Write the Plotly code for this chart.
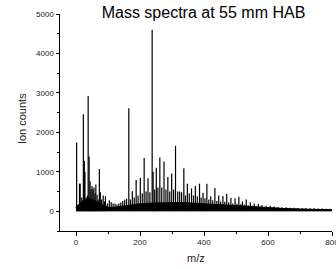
import plotly.graph_objects as go

# Main peaks (m/z, ion counts)
peak_mz = [2, 8, 11, 13, 18, 23, 26, 28, 32, 36, 38, 41, 44, 47, 50, 53, 56, 59, 62, 66,
           69, 73, 76, 80, 85, 89, 92, 98, 104, 110, 116, 122, 128, 134, 140, 146, 152, 158,
           165, 170, 176, 182, 188, 194, 201, 207, 213, 219, 225, 231, 238, 241, 246, 251,
           256, 262, 268, 275, 281, 287, 293, 299, 305, 311, 318, 324, 330, 337, 342, 348,
           354, 361, 367, 373, 379, 386, 391, 397, 403, 409, 415, 421, 427, 434, 440, 446,
           452, 459, 465, 471, 477, 484, 490, 497, 503, 509, 515, 520, 526, 532, 538, 545,
           551, 557, 563, 570, 576, 581, 588, 594, 600, 607, 613, 619, 625, 632, 638, 644,
           650, 657, 663, 669, 675, 682, 688, 694, 700, 707, 713, 719, 725, 732, 738, 744,
           750, 757, 763, 769, 775, 782, 788, 794, 800]
peak_counts = [1740, 120, 700, 700, 350, 2460, 1280, 1000, 350, 400, 2920, 1390, 760, 550, 640, 560, 600, 450, 680, 420,
               300, 1070, 480, 300, 400, 250, 380, 200, 280, 230, 200, 190, 170, 200, 220, 260, 290, 320,
               2610, 300, 510, 350, 790, 400, 850, 450, 1350, 500, 840, 480, 4600, 1000, 550, 1100,
               600, 1360, 600, 1260, 550, 870, 500, 960, 550, 1660, 500, 500, 480, 1090, 400, 700,
               450, 580, 400, 640, 380, 700, 350, 470, 330, 700, 300, 380, 280, 590, 260, 400,
               250, 390, 240, 440, 230, 340, 200, 330, 190, 365, 180, 245, 170, 300, 150, 220,
               140, 200, 130, 185, 120, 160, 110, 140, 100, 140, 95, 120, 90, 110, 85, 100,
               80, 100, 75, 90, 70, 90, 70, 85, 65, 80, 65, 80, 60, 75, 60, 75,
               60, 70, 55, 70, 55, 65, 55, 65, 55]

# Dense low-level background (top of the solid black region)
base_mz = [0, 2, 10, 20, 30, 40, 50, 60, 70, 80, 90, 100, 120, 140, 160, 180, 200, 240,
           280, 320, 360, 400, 440, 480, 520, 560, 600, 650, 700, 750, 800]
base_counts = [90, 130, 180, 260, 300, 330, 300, 260, 220, 170, 130, 100, 100, 120, 150, 170, 190, 210,
               220, 220, 210, 190, 170, 150, 120, 100, 85, 70, 55, 45, 40]

x_ticks = [0, 200, 400, 600, 800]
y_ticks = [0, 1000, 2000, 3000, 4000, 5000]

# Build stick-spectrum coordinates from the data
stick_x, stick_y = [], []
for m, c in zip(peak_mz, peak_counts):
    stick_x += [m, m, None]
    stick_y += [0, c, None]

fig = go.Figure()
fig.add_trace(go.Scatter(x=base_mz, y=base_counts, mode="lines", fill="tozeroy",
                         fillcolor="black", line=dict(color="black", width=1),
                         hoverinfo="skip", showlegend=False))
fig.add_trace(go.Scatter(x=stick_x, y=stick_y, mode="lines",
                         line=dict(color="black", width=1.2), showlegend=False))

font = "Liberation Sans, Arial, sans-serif"
fig.update_layout(
    width=336, height=269,
    margin=dict(l=60, r=4, t=14, b=38),
    paper_bgcolor="white", plot_bgcolor="white",
    font=dict(family=font, color="#222", size=8),
    title=dict(text="Mass spectra at 55 mm HAB", font=dict(size=16, color="black", family=font),
               x=203.5 / 336, xanchor="center", xref="container",
               y=1 - 12.5 / 269, yanchor="middle", yref="container"),
    showlegend=False,
)
fig.update_xaxes(range=[-50, 800], tickvals=x_ticks, ticks="outside", ticklen=3.5, tickwidth=1,
                 tickcolor="black", showline=True, linecolor="black", linewidth=1,
                 showgrid=False, zeroline=False, mirror=False, ticklabeloverflow="allow",
                 automargin=False,
                 minor=dict(dtick=100, tick0=0, ticks="outside", ticklen=2, tickcolor="black", showgrid=False),
                 tickfont=dict(size=8, color="#222"))
fig.update_yaxes(range=[-500, 5000], tickvals=y_ticks, ticks="outside", ticklen=3.5, tickwidth=1,
                 tickcolor="black", showline=True, linecolor="black", linewidth=1,
                 showgrid=False, zeroline=False, mirror=False, ticklabeloverflow="allow",
                 automargin=False,
                 minor=dict(dtick=500, tick0=0, ticks="outside", ticklen=2, tickcolor="black", showgrid=False),
                 tickfont=dict(size=8, color="#222"))

fig.add_annotation(text="m/z", xref="paper", yref="paper", x=0.5, y=-(258 - 231) / 217.3,
                   xanchor="center", yanchor="middle", showarrow=False,
                   font=dict(size=11, color="#222", family=font))
fig.add_annotation(text="Ion counts", xref="paper", yref="paper", x=-(60 - 22) / 271.7, y=(231 - 118) / 217.3,
                   xanchor="center", yanchor="middle", showarrow=False, textangle=-90,
                   font=dict(size=11, color="#222", family=font))

fig.write_html("out.html", config={"displayModeBar": False},
               post_script="document.body.style.margin='0';document.body.style.overflow='hidden';")
